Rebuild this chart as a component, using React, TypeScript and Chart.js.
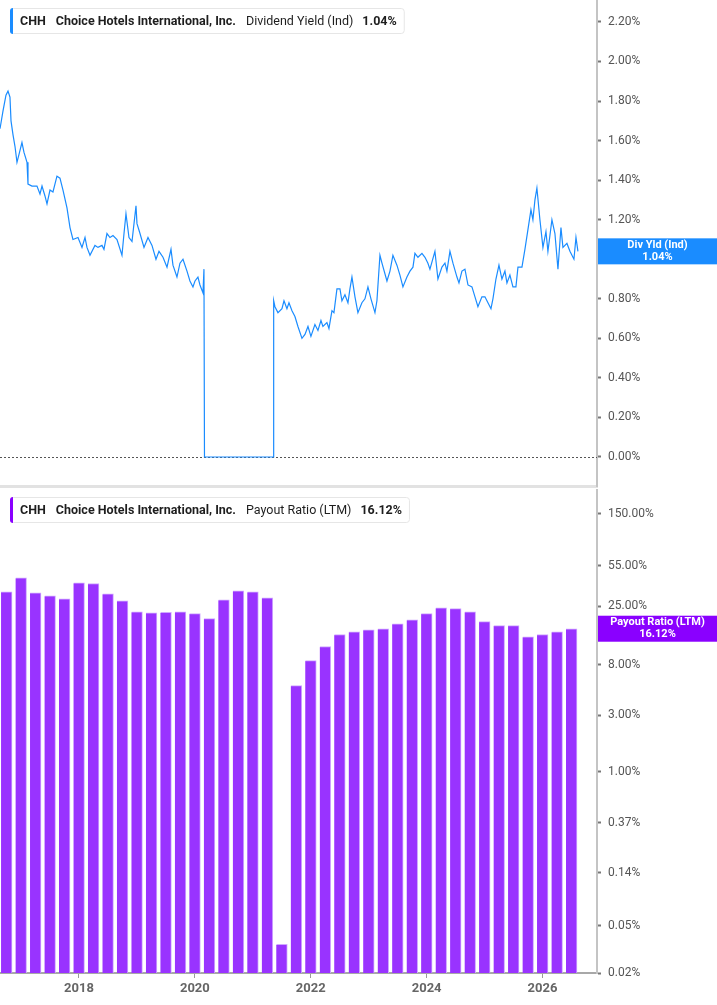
import { useEffect, useRef } from 'react';
import { Chart, registerables } from 'chart.js';

Chart.register(...registerables);

const TICKER = 'CHH';
const COMPANY = 'Choice Hotels International, Inc.';

const yieldDates = [
  2016.637, 2016.689, 2016.74, 2016.775, 2016.809, 2016.827, 2016.861, 2016.896, 2016.93, 2016.965,
  2017.016, 2017.051, 2017.103, 2017.12, 2017.189, 2017.275, 2017.327, 2017.362, 2017.413, 2017.448,
  2017.5, 2017.551, 2017.62, 2017.672, 2017.724, 2017.793, 2017.845, 2017.896, 2017.983, 2018.052,
  2018.104, 2018.138, 2018.19, 2018.276, 2018.328, 2018.397, 2018.431, 2018.483, 2018.535, 2018.587,
  2018.656, 2018.742, 2018.777, 2018.811, 2018.863, 2018.915, 2018.984, 2019.001, 2019.053, 2019.122,
  2019.191, 2019.26, 2019.329, 2019.381, 2019.45, 2019.519, 2019.588, 2019.622, 2019.691, 2019.743,
  2019.795, 2019.864, 2019.915, 2019.967, 2020.002, 2020.053, 2020.088, 2020.14, 2020.157, 2020.166,
  2021.35, 2021.36, 2021.382, 2021.434, 2021.503, 2021.538, 2021.589, 2021.624, 2021.676, 2021.727,
  2021.779, 2021.848, 2021.9, 2021.952, 2022.003, 2022.072, 2022.124, 2022.176, 2022.21, 2022.279,
  2022.314, 2022.366, 2022.4, 2022.452, 2022.504, 2022.538, 2022.59, 2022.642, 2022.676, 2022.711,
  2022.763, 2022.814, 2022.883, 2022.935, 2022.987, 2023.039, 2023.108, 2023.142, 2023.194, 2023.229,
  2023.315, 2023.367, 2023.418, 2023.487, 2023.539, 2023.591, 2023.66, 2023.712, 2023.764, 2023.798,
  2023.85, 2023.919, 2023.971, 2024.022, 2024.057, 2024.143, 2024.195, 2024.264, 2024.316, 2024.35,
  2024.402, 2024.454, 2024.523, 2024.558, 2024.609, 2024.661, 2024.713, 2024.782, 2024.834, 2024.885,
  2024.954, 2025.006, 2025.058, 2025.11, 2025.144, 2025.196, 2025.248, 2025.299, 2025.351, 2025.386,
  2025.437, 2025.489, 2025.541, 2025.576, 2025.645, 2025.696, 2025.748, 2025.8, 2025.834, 2025.869,
  2025.903, 2025.955, 2026.007, 2026.059, 2026.093, 2026.162, 2026.214, 2026.266, 2026.318, 2026.352,
  2026.421, 2026.473, 2026.542, 2026.577, 2026.611,
];
const yieldValues = [
  1.66, 1.75, 1.83, 1.85, 1.82, 1.7, 1.63, 1.57, 1.49, 1.53,
  1.59, 1.54, 1.49, 1.38, 1.37, 1.37, 1.33, 1.37, 1.32, 1.28,
  1.35, 1.34, 1.42, 1.41, 1.35, 1.26, 1.16, 1.1, 1.11, 1.06,
  1.11, 1.06, 1.02, 1.07, 1.06, 1.07, 1.05, 1.13, 1.11, 1.12,
  1.1, 1.02, 1.13, 1.23, 1.11, 1.09, 1.27, 1.18, 1.13, 1.06,
  1.11, 1.07, 1.0, 1.04, 1.01, 0.96, 1.05, 0.97, 0.91, 0.98,
  1.0, 0.94, 0.89, 0.86, 0.89, 0.91, 0.87, 0.83, 0.95, 0,
  0, 0.79, 0.76, 0.73, 0.75, 0.79, 0.75, 0.78, 0.74, 0.71,
  0.66, 0.6, 0.62, 0.66, 0.61, 0.67, 0.64, 0.69, 0.66, 0.68,
  0.65, 0.74, 0.73, 0.85, 0.85, 0.79, 0.82, 0.78, 0.85, 0.91,
  0.81, 0.73, 0.78, 0.8, 0.86, 0.8, 0.73, 0.79, 1.02, 0.98,
  0.89, 0.94, 1.02, 0.97, 0.92, 0.86, 0.91, 0.94, 0.96, 1.03,
  1.01, 1.03, 1.01, 0.98, 0.95, 1.04, 0.9, 0.96, 0.98, 0.94,
  1.04, 0.98, 0.91, 0.88, 0.94, 0.95, 0.87, 0.86, 0.81, 0.76,
  0.81, 0.81, 0.78, 0.75, 0.8, 0.9, 0.97, 0.9, 0.94, 0.88,
  0.92, 0.86, 0.86, 0.96, 0.96, 1.05, 1.15, 1.25, 1.2, 1.3,
  1.36, 1.2, 1.06, 1.14, 1.04, 1.2, 1.13, 0.95, 1.16, 1.06,
  1.08, 1.04, 1.0, 1.11, 1.04,
];
const yieldTicks = [0, 0.2, 0.4, 0.6, 0.8, 1.0, 1.2, 1.4, 1.6, 1.8, 2.0, 2.2];

// Payout ratio (LTM, %), one bar per quarter
const payoutDates = [
  2016.75, 2017.0, 2017.25, 2017.5, 2017.75, 2018.0, 2018.25, 2018.5, 2018.75, 2019.0,
  2019.25, 2019.5, 2019.75, 2020.0, 2020.25, 2020.5, 2020.75, 2021.0, 2021.25, 2021.5,
  2021.75, 2022.0, 2022.25, 2022.5, 2022.75, 2023.0, 2023.25, 2023.5, 2023.75, 2024.0,
  2024.25, 2024.5, 2024.75, 2025.0, 2025.25, 2025.5, 2025.75, 2026.0, 2026.25, 2026.5,
];
const payoutValues = [
  33.0, 43.4, 32.4, 30.5, 28.8, 39.3, 38.8, 31.8, 27.7, 22.4,
  22.0, 22.2, 22.4, 21.6, 19.6, 28.3, 33.7, 33.0, 29.4, 0.035,
  5.33, 8.67, 11.4, 14.4, 15.2, 15.8, 16.1, 17.7, 19.2, 21.6,
  24.2, 23.8, 22.4, 18.5, 17.1, 17.1, 13.8, 14.4, 15.2, 16.12,
];
const payoutTicks = [0.02, 0.05, 0.14, 0.37, 1, 3, 8, 25, 55, 150];

const yearTicks = [2018, 2020, 2022, 2024, 2026];

const X_MIN = 2016.637;
const X_MAX = 2026.94;
const AXIS_W = 120;
const FONT = 'Roboto, "Noto Sans", sans-serif';

const pct = (v: number | string) => Number(v).toFixed(2) + '%';

// kill the auto label padding so the plot area fills the canvas
const noPad = (s: any) => {
  s.paddingTop = 0;
  s.paddingBottom = 0;
  s.paddingLeft = 0;
  s.paddingRight = 0;
};

function headerPlugin(metric: string, valueText: string, color: string, top: number) {
  return {
    id: 'header',
    afterDraw(chart: Chart) {
      const ctx = chart.ctx;
      const parts = [
        { text: TICKER, font: `700 12.5px ${FONT}`, gap: 10 },
        { text: COMPANY, font: `700 12.5px ${FONT}`, gap: 10 },
        { text: metric, font: `400 12.5px ${FONT}`, gap: 9 },
        { text: valueText, font: `700 12.5px ${FONT}`, gap: 0 },
      ];
      ctx.save();
      let w = 0;
      parts.forEach((p) => {
        ctx.font = p.font;
        w += ctx.measureText(p.text).width + p.gap;
      });
      const x = 10;
      const h = 25;
      ctx.fillStyle = '#ffffff';
      ctx.strokeStyle = '#e6e6e6';
      ctx.lineWidth = 1;
      ctx.beginPath();
      ctx.roundRect(x + 0.5, top + 0.5, w + 17, h, 3);
      ctx.fill();
      ctx.stroke();
      ctx.fillStyle = color;
      ctx.beginPath();
      ctx.roundRect(x, top, 3, h + 1, [3, 0, 0, 3]);
      ctx.fill();
      ctx.textBaseline = 'middle';
      ctx.fillStyle = '#1e1e1e';
      let tx = x + 10;
      parts.forEach((p) => {
        ctx.font = p.font;
        ctx.fillText(p.text, tx, top + h / 2 + 1);
        tx += ctx.measureText(p.text).width + p.gap;
      });
      ctx.restore();
    },
  };
}

function tagPlugin(label: string, value: number, color: string) {
  return {
    id: 'tag',
    afterDraw(chart: Chart) {
      const { ctx, chartArea, scales } = chart;
      const y = scales.y.getPixelForValue(value);
      const left = chartArea.right + 1;
      const right = chart.width;
      ctx.save();
      ctx.fillStyle = color;
      ctx.fillRect(left, y - 13, right - left, 26);
      ctx.fillStyle = '#ffffff';
      ctx.font = `700 11px ${FONT}`;
      ctx.textAlign = 'center';
      ctx.textBaseline = 'middle';
      const cx = (left + right) / 2;
      ctx.fillText(label, cx, y - 6);
      ctx.fillText(pct(value), cx, y + 6);
      ctx.restore();
    },
  };
}

const zeroLine = {
  id: 'zeroLine',
  beforeDatasetsDraw(chart: Chart) {
    const { ctx, chartArea, scales } = chart;
    const y = Math.round(scales.y.getPixelForValue(0)) + 0.5;
    ctx.save();
    ctx.strokeStyle = '#555555';
    ctx.lineWidth = 1;
    ctx.setLineDash([2, 2]);
    ctx.beginPath();
    ctx.moveTo(chartArea.left, y);
    ctx.lineTo(chartArea.right, y);
    ctx.stroke();
    ctx.restore();
  },
};

const yTickStyle = {
  color: '#555555',
  font: { family: FONT, size: 12 },
  padding: 7,
};

export default function App() {
  const topRef = useRef<HTMLCanvasElement>(null);
  const bottomRef = useRef<HTMLCanvasElement>(null);

  useEffect(() => {
    if (!topRef.current || !bottomRef.current) return;
    const lastYield = yieldValues[yieldValues.length - 1];
    const lastPayout = payoutValues[payoutValues.length - 1];

    const top = new Chart(topRef.current, {
      type: 'line',
      data: {
        datasets: [
          {
            data: yieldDates.map((d, i) => ({ x: d, y: yieldValues[i] })),
            borderColor: '#1a8cff',
            borderWidth: 1.2,
            pointRadius: 0,
            tension: 0,
          },
        ],
      },
      options: {
        animation: false,
        responsive: false,
        layout: { padding: 0 },
        plugins: { legend: { display: false }, tooltip: { enabled: false } },
        scales: {
          x: {
            type: 'linear',
            min: X_MIN,
            max: X_MAX,
            afterFit: (s: any) => { s.height = 2; noPad(s); },
            ticks: { display: false },
            grid: { display: false, drawTicks: false },
            border: { color: '#e2e2e2', width: 3 },
          },
          y: {
            position: 'right',
            min: -0.1467,
            max: 2.311,
            afterBuildTicks: (s: any) => { s.ticks = yieldTicks.map((v) => ({ value: v })); },
            afterFit: (s: any) => { s.width = AXIS_W; noPad(s); },
            ticks: { ...yTickStyle, callback: (v: any) => pct(v) },
            grid: { drawOnChartArea: false, tickLength: 4, tickColor: '#777777', tickWidth: 2 },
            border: { color: '#c4c4c4', width: 2 },
          },
        },
      },
      plugins: [
        zeroLine,
        headerPlugin('Dividend Yield (Ind)', pct(lastYield), '#1a8cff', 8),
        tagPlugin('Div Yld (Ind)', lastYield, '#1a8cff'),
      ],
    });

    const bottom = new Chart(bottomRef.current, {
      type: 'bar',
      data: {
        datasets: [
          {
            data: payoutDates.map((d, i) => ({ x: d, y: payoutValues[i] })),
            backgroundColor: '#9933ff',
            borderColor: '#cfa8ff',
            borderWidth: { top: 1, right: 1, left: 0, bottom: 0 },
            borderSkipped: 'bottom',
            barThickness: 11,
          },
        ],
      },
      options: {
        animation: false,
        responsive: false,
        layout: { padding: { top: 2 } },
        plugins: { legend: { display: false }, tooltip: { enabled: false } },
        scales: {
          x: {
            type: 'linear',
            min: X_MIN,
            max: X_MAX,
            offset: false,
            afterBuildTicks: (s: any) => { s.ticks = yearTicks.map((v) => ({ value: v })); },
            afterFit: (s: any) => { s.height = 32; noPad(s); },
            ticks: {
              callback: (v: any) => String(v),
              color: '#666666',
              font: { family: FONT, size: 13, weight: 'bold' },
              padding: 3,
              maxRotation: 0,
              autoSkip: false,
            },
            grid: { drawOnChartArea: false, offset: false, tickLength: 5, tickColor: '#999999' },
            border: { color: '#a8a8a8', width: 2 },
          },
          y: {
            type: 'logarithmic',
            position: 'right',
            min: 0.02,
            max: 239,
            afterBuildTicks: (s: any) => { s.ticks = payoutTicks.map((v) => ({ value: v })); },
            afterFit: (s: any) => { s.width = AXIS_W; noPad(s); },
            ticks: { ...yTickStyle, callback: (v: any) => pct(v) },
            grid: { drawOnChartArea: false, tickLength: 4, tickColor: '#777777', tickWidth: 2 },
            border: { color: '#c4c4c4', width: 2 },
          },
        },
      },
      plugins: [
        headerPlugin('Payout Ratio (LTM)', pct(lastPayout), '#8a00ff', 9),
        tagPlugin('Payout Ratio (LTM)', lastPayout, '#8a00ff'),
      ],
    });

    return () => {
      top.destroy();
      bottom.destroy();
    };
  }, []);

  return (
    <div style={{ position: 'absolute', left: 0, top: 0, width: 717, height: 1005, background: '#ffffff' }}>
      <canvas ref={topRef} width={717} height={488} style={{ display: 'block' }} />
      <canvas ref={bottomRef} width={717} height={517} style={{ display: 'block' }} />
    </div>
  );
}
